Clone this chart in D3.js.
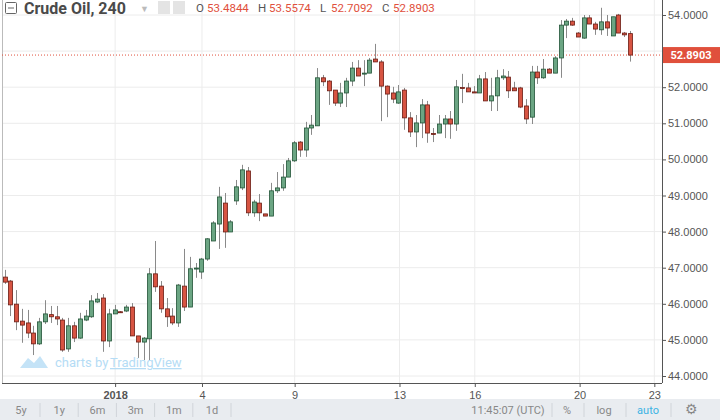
<!DOCTYPE html>
<html>
<head>
<meta charset="utf-8">
<script src="https://cdn.jsdelivr.net/npm/d3@7"></script>
<style>
  body { margin: 0; background: #fff; }
  svg { display: block; font-family: Roboto, "Liberation Sans", sans-serif; }
</style>
</head>
<body>
<svg id="svg" width="720" height="420"></svg>
<script>
// 4h candles, Crude Oil
let opens  = [46.74,46.63,45.99,45.52,45.47,45.19,44.89,45.50,45.70,45.64,45.55,44.75,45.39,45.05,45.55,45.64,46.05,46.16,44.97,45.72,45.78,45.80,45.91,45.11,44.94,45.03,46.83,46.49,45.86,45.66,45.47,46.49,45.91,46.97,46.88,47.24,47.74,48.21,48.79,47.99,48.85,49.21,49.68,48.52,48.79,48.49,48.43,49.13,49.21,49.51,49.96,50.48,50.26,50.87,50.93,52.26,52.17,51.92,51.56,51.84,52.17,52.53,52.37,52.39,52.78,52.70,52.03,51.84,51.56,51.92,51.15,50.76,51.01,51.51,50.72,50.73,50.98,51.12,50.98,51.99,51.98,51.87,51.84,52.23,51.62,51.76,52.26,52.28,51.98,51.98,51.48,51.17,52.42,52.26,52.50,52.39,52.81,53.72,53.83,53.50,53.36,53.92,53.75,53.59,53.81,53.42,54.00,53.50,53.4844];
let highs  = [46.94,46.66,46.38,45.86,45.83,45.39,45.61,46.10,45.94,45.94,45.61,45.61,45.50,45.75,45.83,46.24,46.30,46.27,45.86,45.97,45.80,45.97,46.02,45.11,45.08,46.99,47.74,46.63,46.16,45.88,46.55,47.52,47.30,47.13,47.27,47.82,48.29,49.24,49.07,48.32,49.43,49.85,49.79,48.88,49.04,48.49,49.35,49.65,49.87,50.04,50.51,50.51,51.04,51.23,52.53,52.34,52.20,51.92,52.12,52.26,52.70,52.75,52.75,52.81,53.20,52.75,52.05,52.01,52.06,51.98,51.31,51.23,51.67,51.62,50.87,51.23,51.23,51.34,52.20,52.37,52.12,52.03,52.34,52.42,52.26,52.48,52.50,52.45,52.15,52.01,51.67,52.59,52.59,52.78,52.53,52.86,53.86,53.89,53.92,53.53,54.00,54.00,53.81,54.20,54.00,53.95,54.03,53.53,53.5574];
let lows   = [46.55,45.66,45.27,44.92,45.05,44.58,44.86,45.44,45.47,45.41,44.67,44.67,44.94,45.03,45.52,45.61,46.02,44.67,44.80,45.72,45.75,45.77,45.11,44.50,44.44,44.44,46.33,45.75,45.36,45.41,45.36,45.80,45.91,46.72,46.69,47.19,47.74,47.52,47.55,47.99,48.74,49.15,48.43,48.41,48.29,48.43,48.43,49.07,49.13,49.51,49.93,50.07,50.07,50.68,50.93,52.03,51.51,51.48,51.45,51.45,52.03,52.31,52.03,52.39,52.70,51.06,51.17,51.56,51.54,50.82,50.62,50.34,50.59,50.46,50.48,50.73,50.59,50.57,50.79,51.56,51.87,51.84,51.84,51.62,51.34,51.34,52.20,51.70,51.90,51.42,50.98,50.98,52.09,52.23,52.39,52.39,52.26,53.36,53.70,53.39,53.34,53.75,53.45,53.45,53.42,53.42,53.50,53.39,52.7092];
let closes = [46.60,45.97,45.50,45.41,45.19,44.89,45.50,45.72,45.64,45.58,44.72,45.39,45.05,45.58,45.66,46.08,46.13,44.97,45.72,45.83,45.77,45.91,45.11,44.94,45.05,46.83,46.47,45.86,45.64,45.47,46.52,45.91,46.97,46.99,47.24,47.80,48.24,48.96,47.99,48.27,49.24,49.71,48.52,48.82,48.52,48.43,49.13,49.21,49.51,49.96,50.46,50.26,50.87,50.95,52.26,52.15,51.90,51.56,51.84,52.17,52.53,52.31,52.39,52.75,52.70,52.03,51.81,51.67,51.87,51.15,50.76,51.01,51.51,50.73,50.70,50.98,51.12,50.98,52.01,51.98,51.87,51.84,52.23,51.62,51.76,52.26,52.31,51.90,51.90,51.45,51.12,52.42,52.26,52.50,52.39,52.81,53.72,53.83,53.72,53.39,53.92,53.75,53.61,53.81,53.64,53.95,53.50,53.45,52.8903];

let priceTicks = [44, 45, 46, 47, 48, 49, 50, 51, 52, 53, 54];
// candle index where each date label sits
let dateTickIdx = [19.1, 34.1, 50.1, 68.2, 81.2, 99.3, 112.2];
let dateLabels  = ["2018", "4", "9", "13", "16", "20", "23"];
let lastPrice = 52.8903;
let header = [["O", 53.4844], ["H", 53.5574], ["L", 52.7092], ["C", 52.8903]];
let rangeButtons = ["5y", "1y", "6m", "3m", "1m", "1d"];

let svg = d3.select("#svg");
const plotRight = 662;
const plotBottom = 383;
let candles = opens.map((o, i) => ({ i: i, o: o, h: highs[i], l: lows[i], c: closes[i] }));

let xScale = d3.scaleLinear().domain([0, candles.length - 1]).range([4.5, 630]);
let yScale = d3.scaleLinear().domain([44, 54]).range([376, 15]);

// grid
svg.append("g").selectAll("line").data(priceTicks).join("line")
    .attr("x1", 2).attr("x2", plotRight)
    .attr("y1", d => yScale(d)).attr("y2", d => yScale(d))
    .attr("stroke", "#ececec");
svg.append("g").selectAll("line").data(dateTickIdx).join("line")
    .attr("x1", d => xScale(d)).attr("x2", d => xScale(d))
    .attr("y1", 0).attr("y2", plotBottom)
    .attr("stroke", "#ececec");

// borders
svg.append("line").attr("x1", 2.5).attr("x2", 2.5).attr("y1", 0).attr("y2", plotBottom).attr("stroke", "#bbb");
svg.append("line").attr("x1", plotRight + .5).attr("x2", plotRight + .5).attr("y1", 0).attr("y2", plotBottom).attr("stroke", "#555");
svg.append("line").attr("x1", 2).attr("x2", plotRight).attr("y1", plotBottom + .5).attr("y2", plotBottom + .5).attr("stroke", "#555");

// last price line
svg.append("line")
    .attr("x1", 2).attr("x2", plotRight)
    .attr("y1", yScale(lastPrice)).attr("y2", yScale(lastPrice))
    .attr("stroke", "#e0503c").attr("stroke-dasharray", "1,2");

// candles
let g = svg.append("g");
let cg = g.selectAll("g").data(candles).join("g");
cg.append("line")
    .attr("x1", d => Math.round(xScale(d.i)) + .5).attr("x2", d => Math.round(xScale(d.i)) + .5)
    .attr("y1", d => yScale(d.h)).attr("y2", d => yScale(d.l))
    .attr("stroke", "#8a8a8a");
cg.append("rect")
    .attr("x", d => Math.round(xScale(d.i)) - 1.5)
    .attr("width", 4)
    .attr("y", d => yScale(Math.max(d.o, d.c)))
    .attr("height", d => Math.max(1, Math.abs(yScale(d.o) - yScale(d.c))))
    .attr("fill", d => d.c >= d.o ? "#6ba583" : "#d75442")
    .attr("stroke", d => d.c >= d.o ? "#225437" : "#6b1c13")
    .attr("stroke-width", 0.8);

// price axis (label under the last-price box is hidden, as in the original)
let yAxis = svg.append("g")
    .attr("transform", `translate(${plotRight},0)`)
    .call(d3.axisRight(yScale).tickValues(priceTicks).tickSize(4).tickFormat(d3.format(".4f")));
yAxis.select(".domain").remove();
yAxis.selectAll("line").attr("stroke", "#555");
yAxis.selectAll("text").attr("fill", "#555").style("font-size", "11px").attr("x", 6);
yAxis.selectAll(".tick").filter(d => Math.abs(yScale(d) - yScale(lastPrice)) < 12).select("text").remove();

svg.append("rect").attr("x", plotRight + 1).attr("y", yScale(lastPrice) - 8)
    .attr("width", 57).attr("height", 16).attr("fill", "#e0503c");
svg.append("text").attr("x", plotRight + 29).attr("y", yScale(lastPrice) + 4)
    .attr("text-anchor", "middle").attr("fill", "#fff").style("font-size", "11px").style("font-weight", "bold")
    .text(d3.format(".4f")(lastPrice));

// time axis
let xAxis = svg.append("g")
    .attr("transform", `translate(0,${plotBottom})`)
    .call(d3.axisBottom(xScale).tickValues(dateTickIdx).tickSize(4).tickFormat((d, i) => dateLabels[i]));
xAxis.select(".domain").remove();
xAxis.selectAll("line").attr("stroke", "#555");
xAxis.selectAll("text").attr("fill", "#555").style("font-size", "11px").attr("y", 8)
    .style("font-weight", (d, i) => i === 0 ? "bold" : "normal");

// watermark
let wm = svg.append("g").attr("fill", "#b5dcf5");
wm.append("path").attr("d", "M20,368 L28,358 L34,363 L40,356 L48,368 Z").attr("opacity", 0.8);
wm.append("text").attr("x", 55).attr("y", 367).style("font-size", "13px").text("charts by ");
wm.append("text").attr("x", 110).attr("y", 367).style("font-size", "13px")
    .style("text-decoration", "underline").text("TradingView");

// header
svg.append("rect").attr("x", 5.5).attr("y", 2.5).attr("width", 11).attr("height", 11)
    .attr("fill", "#fff").attr("stroke", "#666").attr("rx", 1);
svg.append("line").attr("x1", 8).attr("x2", 14).attr("y1", 8).attr("y2", 8).attr("stroke", "#666");
svg.append("text").attr("x", 24).attr("y", 14).attr("fill", "#4a4a4a")
    .style("font-size", "16px").style("font-weight", "bold").text("Crude Oil, 240");
svg.append("text").attr("x", 140).attr("y", 12).attr("fill", "#bbb").style("font-size", "9px").text("▼");
svg.append("rect").attr("x", 158).attr("y", 1).attr("width", 12).attr("height", 13).attr("fill", "#e4e4e4");
svg.append("rect").attr("x", 173).attr("y", 1).attr("width", 12).attr("height", 13).attr("fill", "#e4e4e4");
let hx = 196;
header.forEach(([k, v]) => {
    svg.append("text").attr("x", hx).attr("y", 12).attr("fill", "#555").style("font-size", "11.5px").text(k);
    svg.append("text").attr("x", hx + 11).attr("y", 12).attr("fill", "#e0503c").style("font-size", "11.5px")
        .text(d3.format(".4f")(v));
    hx += 62;
});

// toolbar
svg.append("rect").attr("x", 0).attr("y", 399).attr("width", 720).attr("height", 21).attr("fill", "#e9ecf0");
let bx = d3.scaleLinear().domain([0, rangeButtons.length - 1]).range([21, 212]);
rangeButtons.forEach((b, i) => {
    svg.append("text").attr("x", bx(i)).attr("y", 414).attr("text-anchor", "middle")
        .attr("fill", "#888").style("font-size", "11px").text(b);
    svg.append("line").attr("x1", bx(i) + 19).attr("x2", bx(i) + 19).attr("y1", 403).attr("y2", 417).attr("stroke", "#d0d4d9");
});
[["11:45:07 (UTC)", 508, "#888"], ["%", 567, "#888"], ["log", 604, "#888"], ["auto", 648, "#3bb3e4"], ["⚙", 691, "#888"]]
    .forEach(([t, x, c]) => {
        svg.append("text").attr("x", x).attr("y", 414).attr("text-anchor", "middle")
            .attr("fill", c).style("font-size", t === "⚙" ? "14px" : "11px").text(t);
    });
[552, 584, 626, 671].forEach(x => svg.append("line").attr("x1", x).attr("x2", x)
    .attr("y1", 403).attr("y2", 417).attr("stroke", "#d0d4d9"));
</script>
</body>
</html>
